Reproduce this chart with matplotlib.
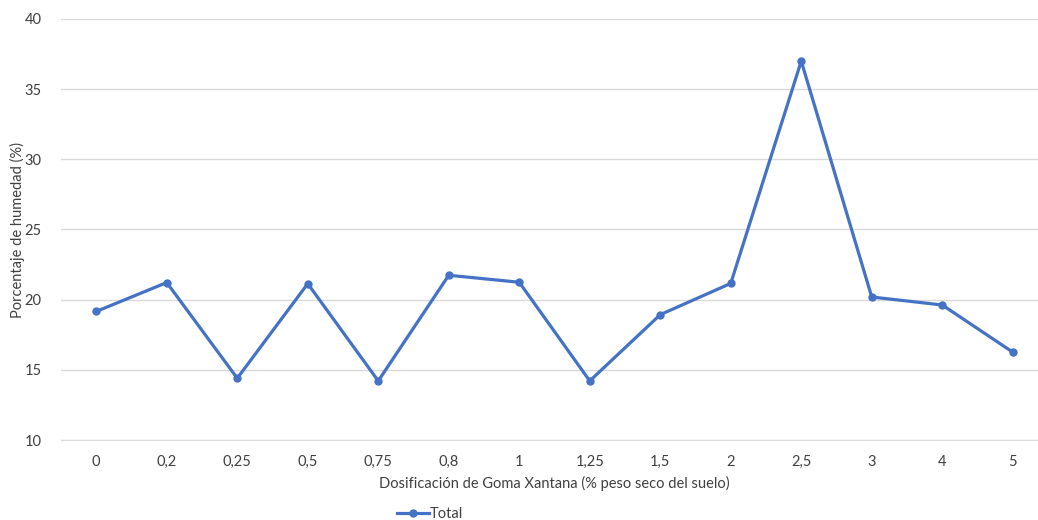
import matplotlib
matplotlib.use("Agg")
import matplotlib.pyplot as plt

# dosificacion de goma xantana (% peso seco del suelo) vs humedad
dosis = ["0", "0,2", "0,25", "0,5", "0,75", "0,8", "1", "1,25", "1,5", "2", "2,5", "3", "4", "5"]
humedad = [19.16, 21.22, 14.40, 21.14, 14.21, 21.74, 21.24, 14.21, 18.93, 21.16, 37.0, 20.19, 19.62, 16.26]

plt.rcParams['font.family'] = ['Lato', 'DejaVu Sans']

fig = plt.figure(figsize=(10.38, 5.2), dpi=100)
ax = fig.add_axes([61 / 1038, 80 / 520, 987 / 1038, 421 / 520])

x = list(range(len(dosis)))
ax.plot(x, humedad, color='#4472C4', lw=2.3, marker='o', markersize=5, label='Total')

ax.set_xlim(-0.5, len(dosis) - 0.5)
ax.set_ylim(10, 40)
ax.set_yticks(range(10, 41, 5))
ax.set_xticks(x)
ax.set_xticklabels(dosis)
ax.grid(axis='y', color='#D9D9D9', lw=1)
ax.set_axisbelow(True)
for s in ['top', 'right', 'left']:
    ax.spines[s].set_visible(False)
ax.spines['bottom'].set_color('#D9D9D9')
ax.tick_params(length=0, labelsize=10.5, colors='#404040')
ax.tick_params(axis='y', pad=14)
ax.tick_params(axis='x', pad=11)

ax.set_xlabel("Dosificación de Goma Xantana (% peso seco del suelo)", fontsize=10.5, color='#404040', labelpad=5)
ax.set_ylabel("Porcentaje de humedad (%)", fontsize=10.5, color='#404040')
ax.yaxis.set_label_coords(-0.036, 0.5)

fig.legend(loc='center', bbox_to_anchor=(430 / 1038, 6 / 520), frameon=False, fontsize=10.5,
           handlelength=2.2, handletextpad=0.1, labelcolor='#404040')

fig.savefig("out.png", dpi=100)
